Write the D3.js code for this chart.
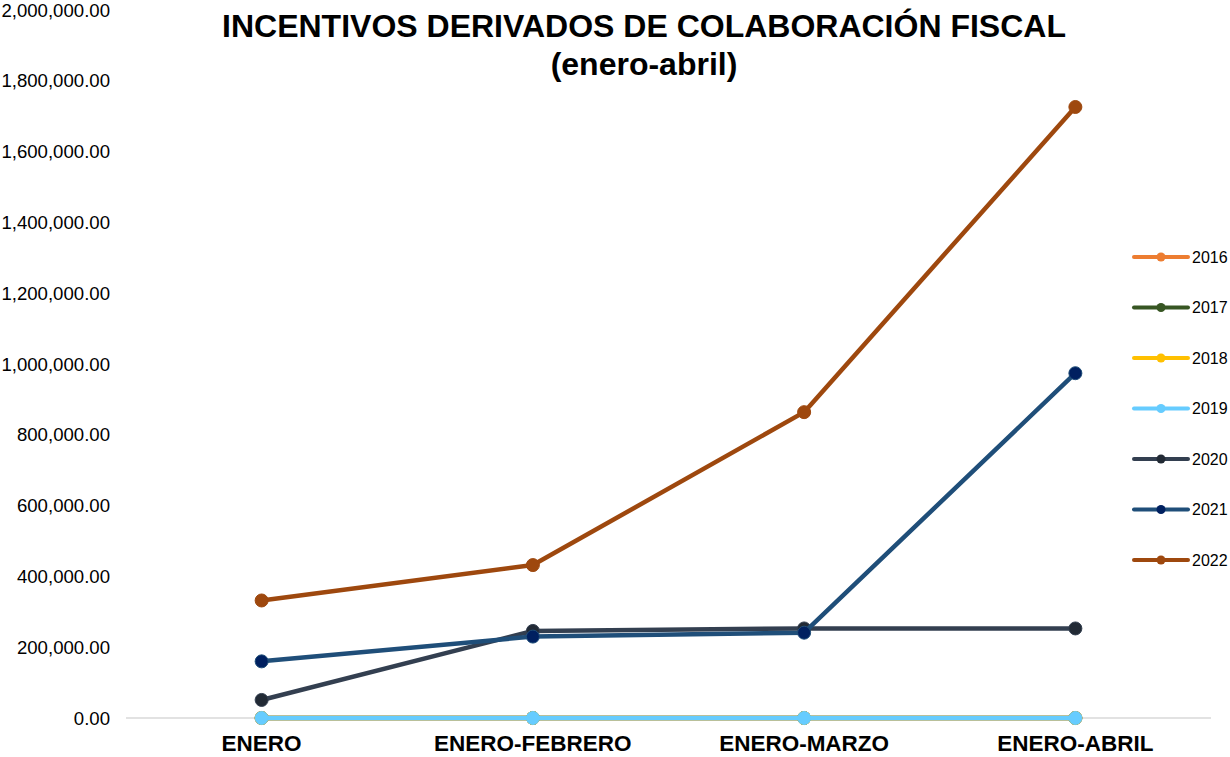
<!DOCTYPE html>
<html>
<head>
<meta charset="utf-8">
<script src="https://cdn.jsdelivr.net/npm/d3@7"></script>
<style>
    body { margin: 0; background: #fff; }
    svg { font-family: 'Liberation Sans', Arial, sans-serif; }
</style>
</head>
<body>
<div id="chart"></div>
<script>
// Data
var categories = ['ENERO', 'ENERO-FEBRERO', 'ENERO-MARZO', 'ENERO-ABRIL'];
var years = ['2016', '2017', '2018', '2019', '2020', '2021', '2022'];
var v2016 = [0, 0, 0, 0];
var v2017 = [0, 0, 0, 0];
var v2018 = [0, 0, 0, 0];
var v2019 = [0, 0, 0, 0];
var v2020 = [51000, 246000, 253000, 253000];
var v2021 = [160000, 230000, 241000, 974000];
var v2022 = [332000, 432000, 864000, 1726000];
var yTicks = [0, 200000, 400000, 600000, 800000, 1000000, 1200000, 1400000, 1600000, 1800000, 2000000];

var lineColors = ['#ED7D31', '#375623', '#FFC000', '#66CCFF', '#333F50', '#1F4E79', '#9E480E'];
var dotColors = ['#ED7D31', '#375623', '#FFC000', '#66CCFF', '#222A35', '#002060', '#9E480E'];

var series = years.map(function (y, i) {
    return { year: y, values: [v2016, v2017, v2018, v2019, v2020, v2021, v2022][i], line: lineColors[i], dot: dotColors[i] };
});

var W = 1230, H = 757;
var margin = { top: 10, right: 19, bottom: 39, left: 126 };
var width = W - margin.left - margin.right,
    height = H - margin.top - margin.bottom;

var svg = d3.select('#chart').append('svg').attr('width', W).attr('height', H);
var g = svg.append('g').attr('transform', 'translate(' + margin.left + ',' + margin.top + ')');

var x = d3.scalePoint().domain(categories).range([0, width]).padding(0.5);
var y = d3.scaleLinear().domain([0, 2000000]).range([height, 0]);

var fmt = d3.format(',.2f');

// Y tick labels
g.selectAll('.ytick')
    .data(yTicks)
    .enter()
    .append('text')
    .attr('x', -16)
    .attr('y', function (d) { return y(d); })
    .attr('dy', '0.35em')
    .attr('text-anchor', 'end')
    .attr('font-size', 18.6)
    .attr('fill', '#000')
    .text(function (d) { return fmt(d); });

// Baseline
g.append('line')
    .attr('x1', 0).attr('x2', width)
    .attr('y1', y(0)).attr('y2', y(0))
    .attr('stroke', '#d9d9d9').attr('stroke-width', 1.5);

// X labels
g.selectAll('.xlab')
    .data(categories)
    .enter()
    .append('text')
    .attr('x', function (d) { return x(d); })
    .attr('y', height + 33)
    .attr('text-anchor', 'middle')
    .attr('font-size', 22.5)
    .attr('font-weight', 'bold')
    .text(function (d) { return d; });

// Lines
var line = d3.line()
    .x(function (d, i) { return x(categories[i]); })
    .y(function (d) { return y(d); });

series.forEach(function (s) {
    g.append('path')
        .attr('d', line(s.values))
        .attr('fill', 'none')
        .attr('stroke', s.line)
        .attr('stroke-width', 4.5)
        .attr('stroke-linejoin', 'round');
    g.selectAll(null)
        .data(s.values)
        .enter()
        .append('circle')
        .attr('cx', function (d, i) { return x(categories[i]); })
        .attr('cy', function (d) { return y(d); })
        .attr('r', 6.5)
        .attr('fill', s.dot)
        .attr('stroke', s.line)
        .attr('stroke-width', 1);
});

// Title
svg.append('text')
    .attr('x', 644).attr('y', 37)
    .attr('text-anchor', 'middle')
    .attr('font-size', 32).attr('font-weight', 'bold')
    .text('INCENTIVOS DERIVADOS DE COLABORACIÓN FISCAL');
svg.append('text')
    .attr('x', 644).attr('y', 75)
    .attr('text-anchor', 'middle')
    .attr('font-size', 32).attr('font-weight', 'bold')
    .text('(enero-abril)');

// Legend
var legend = svg.append('g').attr('transform', 'translate(1134,257)');
var items = legend.selectAll('g')
    .data(series)
    .enter()
    .append('g')
    .attr('transform', function (d, i) { return 'translate(0,' + i * 50.5 + ')'; });
items.append('line')
    .attr('x1', 0).attr('x2', 54)
    .attr('stroke', function (d) { return d.line; })
    .attr('stroke-width', 4)
    .attr('stroke-linecap', 'round');
items.append('circle')
    .attr('cx', 27).attr('r', 4.5)
    .attr('fill', function (d) { return d.dot; });
items.append('text')
    .attr('x', 58).attr('dy', '0.35em')
    .attr('font-size', 16)
    .text(function (d) { return d.year; });
</script>
</body>
</html>
